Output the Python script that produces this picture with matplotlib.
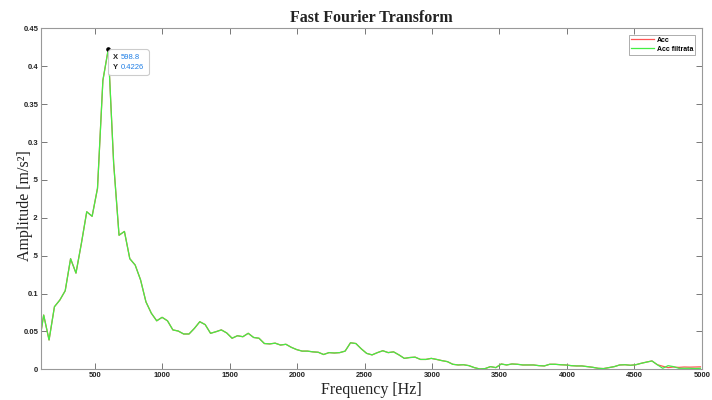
import numpy as np
import matplotlib
matplotlib.use("Agg")
import matplotlib.pyplot as plt
from matplotlib.ticker import FuncFormatter
from matplotlib.offsetbox import TextArea, HPacker, AnnotationBbox

# FFT bin spacing and bin indices shown on the plot
bin_width = 39.92
bins = np.arange(2, 126)

# Filtered acceleration spectrum amplitude [m/s^2]
acc_filt = [
    0.027, 0.0716, 0.0387, 0.0826, 0.0914, 0.1037, 0.146, 0.127, 0.166, 0.208,
    0.202, 0.239, 0.3815, 0.4226, 0.272, 0.177, 0.182, 0.146, 0.1376, 0.118,
    0.089, 0.074, 0.064, 0.0686, 0.064, 0.052, 0.0505, 0.0466, 0.0466, 0.054,
    0.0628, 0.059, 0.0475, 0.0496, 0.052, 0.048, 0.041, 0.0443, 0.043, 0.0475,
    0.042, 0.041, 0.034, 0.0335, 0.0345, 0.032, 0.033, 0.029, 0.026, 0.024,
    0.024, 0.023, 0.0225, 0.0195, 0.022, 0.0215, 0.022, 0.024, 0.035, 0.034,
    0.027, 0.021, 0.019, 0.022, 0.0245, 0.022, 0.023, 0.019, 0.0144, 0.0155,
    0.016, 0.013, 0.013, 0.0144, 0.013, 0.0114, 0.0101, 0.0066, 0.0057, 0.006,
    0.0048, 0.0022, 0.0004, 0.0009, 0.0035, 0.0022, 0.007, 0.0057, 0.007, 0.0066,
    0.0057, 0.0057, 0.0057, 0.0048, 0.0044, 0.0066, 0.0066, 0.006, 0.0057, 0.0048,
    0.0044, 0.0044, 0.0035, 0.0026, 0.0013, 0.0009, 0.0022, 0.0035, 0.0057, 0.006,
    0.0053, 0.006, 0.0079, 0.0095, 0.011, 0.006, 0.0013, 0.0048, 0.0035, 0.0013,
    0.0013, 0.0013, 0.001, 0.0013,
]

# Raw acceleration spectrum: identical below ~4700 Hz, slightly higher at the top end
acc_raw_tail = [0.0040, 0.0022, 0.0030, 0.0025, 0.0030, 0.0028, 0.0030, 0.0032]
acc_raw = acc_filt[:-len(acc_raw_tail)] + acc_raw_tail

x_ticks = [500, 1000, 1500, 2000, 2500, 3000, 3500, 4000, 4500, 5000]
y_ticks = [0, 0.05, 0.1, 0.15, 0.2, 0.25, 0.3, 0.35, 0.4, 0.45]

peak_x = 598.8
peak_y = 0.4226

freq = bins * bin_width

fig = plt.figure(figsize=(7.12, 4.0), dpi=100)
ax = fig.add_axes([0.0576, 0.0768, 0.928, 0.852])

ax.plot(freq, acc_raw, color="#ff5555", lw=0.9, label="Acc")
ax.plot(freq, acc_filt, color="#44ee44", lw=0.9, label="Acc filtrata")

ax.set_xlim(100, 5000)
ax.set_ylim(0, 0.45)
ax.set_xticks(x_ticks)
ax.set_yticks(y_ticks)
ax.yaxis.set_major_formatter(FuncFormatter(lambda v, p: "%g" % round(v, 4)))

for lab in ax.get_xticklabels() + ax.get_yticklabels():
    lab.set_fontweight("bold")
    lab.set_fontfamily("Liberation Sans")
ax.tick_params(direction="in", length=4, width=0.7, color="#777777",
               labelsize=5.5, labelcolor="#222222", top=True, right=True, pad=2)
for s in ax.spines.values():
    s.set_color("#999999")
    s.set_linewidth(0.8)

ax.set_title("Fast Fourier Transform", fontfamily="Liberation Serif",
             fontweight="bold", fontsize=11.5, color="#222222", pad=5)
ax.set_xlabel("Frequency [Hz]", fontfamily="Liberation Serif", fontsize=11.5,
              color="#222222", labelpad=2)
ax.set_ylabel("Amplitude [m/s²]", fontfamily="Liberation Serif", fontsize=11.5,
              color="#222222",
              bbox=dict(facecolor="white", edgecolor="none", pad=0.3))
ax.yaxis.set_label_coords(-0.0125, 0.48)

leg = ax.legend(loc="upper right", fontsize=5, frameon=True, fancybox=False,
                borderpad=0.3, handlelength=3.2, handletextpad=0.5,
                labelspacing=0.3, borderaxespad=0.9)
leg.get_frame().set_edgecolor("#888888")
leg.get_frame().set_linewidth(0.6)
for t in leg.get_texts():
    t.set_fontweight("bold")
    t.set_fontfamily("Liberation Sans")

# Data tip at the spectral peak
ax.plot([peak_x], [peak_y], "o", color="black", ms=2.3, zorder=5)
tip_keys = TextArea("X\nY", textprops=dict(fontsize=5.5, fontweight="bold",
                                           fontfamily="Liberation Sans",
                                           color="#222222", linespacing=1.5))
tip_vals = TextArea("%.1f\n%.4f" % (peak_x, peak_y),
                    textprops=dict(fontsize=5.5, fontfamily="Liberation Sans",
                                   color="#1f7fe6", linespacing=1.5))
tip_row = HPacker(children=[tip_keys, tip_vals], align="top", pad=0, sep=2)
tip = AnnotationBbox(tip_row, (peak_x, peak_y), xybox=(3.5, -3.5),
                     xycoords="data", boxcoords="offset points",
                     box_alignment=(0, 1), pad=0.35, frameon=True,
                     bboxprops=dict(boxstyle="round,pad=0.35,rounding_size=0.2",
                                    facecolor="white", edgecolor="#cccccc", lw=0.8),
                     zorder=6)
ax.add_artist(tip)

fig.savefig("out.png", dpi=100)
